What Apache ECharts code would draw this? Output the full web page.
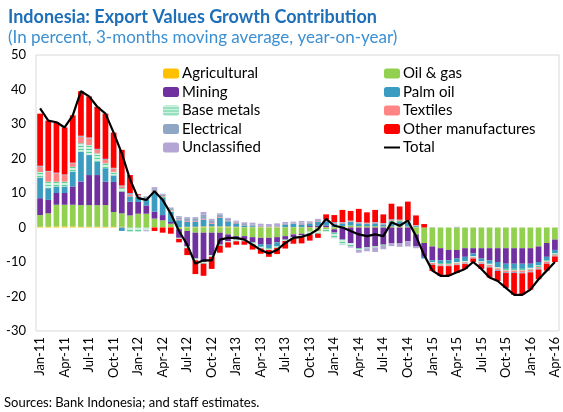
<!DOCTYPE html>
<html>
<head>
<meta charset="utf-8">
<script src="https://cdn.jsdelivr.net/npm/echarts@6/dist/echarts.min.js"></script>
<style>
  html, body { margin: 0; padding: 0; background: #fff; }
  #chart { width: 563px; height: 412px; }
</style>
</head>
<body>
<div id="chart"></div>
<script>
var months = [
    'Jan-11','Feb-11','Mar-11','Apr-11','May-11','Jun-11','Jul-11','Aug-11','Sep-11','Oct-11','Nov-11','Dec-11',
    'Jan-12','Feb-12','Mar-12','Apr-12','May-12','Jun-12','Jul-12','Aug-12','Sep-12','Oct-12','Nov-12','Dec-12',
    'Jan-13','Feb-13','Mar-13','Apr-13','May-13','Jun-13','Jul-13','Aug-13','Sep-13','Oct-13','Nov-13','Dec-13',
    'Jan-14','Feb-14','Mar-14','Apr-14','May-14','Jun-14','Jul-14','Aug-14','Sep-14','Oct-14','Nov-14','Dec-14',
    'Jan-15','Feb-15','Mar-15','Apr-15','May-15','Jun-15','Jul-15','Aug-15','Sep-15','Oct-15','Nov-15','Dec-15',
    'Jan-16','Feb-16','Mar-16','Apr-16'
];

var agricultural = [
    0.2,0.2,0.3,0.3,0.3,0.2,0.2,0.2,0.2,0.2,0.2,0.1,
    0.1,0.1,0.1,0.1,0.1,0.1,0.2,0.2,0.3,0.3,0.3,0.3,
    0.2,0.1,0.1,0.1,0.1,0.1,0.1,0.1,0.1,0.1,0.1,0.1,
    0.1,0.1,0.1,0.1,0.1,0.1,0.1,0.1,0.1,0.1,0.1,0,
    0,0,0,0,0,0,0,0,0,0,0,0,
    0,0,0,0
];
var oilGas = [
    3.4,3.9,6.3,6.3,6.3,6.3,6.3,6.3,6.3,4.3,3.9,3.4,
    3.9,3.9,2.5,2.0,1.0,-0.5,-1.0,-1.5,-1.5,-1.5,-1.5,-2.0,
    -2.5,-2.5,-2.8,-3.0,-3.0,-2.8,-2.5,-2.0,-1.8,-1.2,-1.0,-0.5,
    -0.5,0.3,0.5,0.3,0.3,0.3,0.2,0.3,0.3,0.2,-2.0,-4.5,
    -5.5,-6.0,-6.5,-6.5,-6.0,-6.0,-6.0,-6.0,-6.0,-6.0,-6.0,-6.0,
    -6.0,-5.5,-4.5,-3.5
];
var mining = [
    4.9,3.9,3.4,3.4,5.3,6.8,8.7,8.7,6.8,8.7,6.3,4.0,
    3.4,2.4,2.0,1.5,0.5,-2.5,-4.5,-7.5,-8.5,-6.5,-3.5,-2.0,
    -1.0,-1.0,-1.5,-1.8,-2.0,-1.5,-1.0,-0.8,-0.5,0.3,0.4,0.5,
    -1.0,-3.5,-4.5,-6.0,-5.8,-5.5,-5.0,-4.5,-4.5,-4.0,-3.5,-4.0,
    -4.0,-3.5,-3.0,-2.5,-2.5,-1.5,-3.0,-3.5,-4.0,-4.5,-4.5,-4.5,
    -4.5,-4.5,-4.0,-3.0
];
var palmOil = [
    6.0,3.4,1.9,1.9,4.3,8.7,5.8,3.9,3.9,1.9,-1.0,1.5,
    1.5,1.8,5.5,5.0,3.0,2.0,1.5,1.5,2.0,0.8,2.5,1.5,
    1.0,0.5,0.3,-0.8,-1.0,-1.2,0.8,1.0,0.8,0.8,1.2,1.2,
    1.0,0.8,1.0,0.8,0.6,0.8,0.6,1.2,1.2,1.0,0.3,-0.5,
    -0.5,-0.8,-0.8,-1.0,-1.2,-0.8,-0.8,-1.0,-1.5,-1.5,-1.5,-1.5,
    -1.2,-1.0,-1.0,-1.0
];
var baseMetals = [
    1.6,1.9,1.4,1.4,1.4,2.4,2.9,2.4,1.4,1.0,1.0,-1.2,
    -1.2,-0.8,0.3,0.3,0.3,-0.3,-0.5,-0.5,-0.5,-0.5,-0.3,-0.3,
    -0.5,-0.5,-0.6,-0.5,-0.5,-0.4,-0.4,-0.4,-0.3,-0.8,-0.8,-0.8,
    -1.5,-1.5,-1.0,-0.5,-0.3,-0.3,-0.3,0.3,0.3,0.3,0.1,0,
    -0.3,-0.4,-0.4,-0.4,-0.4,-0.3,-0.3,-0.4,-0.4,-0.5,-0.5,-0.5,
    -0.5,-0.5,-0.4,-0.4
];
var textiles = [
    1.5,2.9,2.4,1.9,1.0,1.9,1.9,1.0,1.0,1.0,0.5,0.5,
    0.3,0.2,0.2,0.2,0.2,0.2,0.2,0.2,0.2,0.2,0.2,0.2,
    0.2,0.1,0.1,0.1,0.1,0.1,0.1,0.1,0.2,0.2,0.2,0.2,
    0.2,0.2,0.2,0.2,0.2,0.2,0.2,0.2,0.2,0.2,0.1,0,
    -0.3,-0.3,-0.3,-0.3,-0.3,-0.2,-0.3,-0.4,-0.4,-0.4,-0.4,-0.5,
    -0.5,-0.4,-0.4,-0.3
];
var electrical = [
    0.3,0.2,0.2,0.2,0.2,0.3,0.3,0.3,0.3,0.2,0.3,0.5,
    0.3,0.6,0.5,0.5,0.5,0.6,0.8,0.8,1.2,0.8,0.8,0.5,
    0.3,0.3,0.4,0.3,0.2,0.2,0.2,0.3,0.3,0.2,0.3,0.3,
    0.3,0.2,0.2,0.2,0.2,0.2,0.2,0.3,0.2,0.2,0.1,0,
    -0.2,-0.2,-0.2,-0.2,-0.2,-0.2,-0.2,-0.3,-0.3,-0.3,-0.3,-0.3,
    -0.3,-0.3,-0.2,-0.2
];
var otherManuf = [
    15.1,14.6,14.6,13.6,13.7,12.9,11.9,12.2,13.1,10.2,10.3,5.2,
    0.2,0.0,-1.0,-1.5,-1.8,-1.0,-2.0,-4.0,-3.5,-3.5,-2.0,-1.5,
    -1.0,-1.0,-1.5,-1.5,-2.0,-1.8,-2.2,-1.5,-2.0,-1.8,-1.2,1.5,
    2.0,3.5,2.8,3.8,3.0,3.5,2.5,4.5,3.8,5.5,2.8,1.0,
    -1.8,-2.8,-2.8,-2.3,-1.4,-1.0,-1.4,-2.9,-2.9,-4.3,-6.3,-6.2,
    -5.0,-2.8,-2.0,-1.6
];
var unclassified = [
    0,0,0,0,0,0,0,0,0,0,0,0,
    0,-0.3,0.6,0.2,0.2,0.4,0.3,0.3,0.8,0.4,0.3,0.3,
    0.3,0.5,0.5,0.6,0.6,0.8,0.4,0.2,0.5,0.2,0.3,0,
    -0.1,-0.1,-0.3,-0.8,-0.8,-1.3,-1.0,-0.9,-1.1,-1.5,-0.5,0,
    0.1,0,0,0.2,0,0,0,0,0,0,0,0,
    0,0,0,0
];
var total = [
    34.5,31,30.5,29,32.5,39.5,38,35,33,27.5,21.5,14,
    8.5,8,10.5,8,4,-1,-5,-10.5,-9.5,-9.5,-3.5,-3,
    -3,-3.5,-5,-6.5,-7.5,-6.5,-4.5,-3,-2.7,-2,-0.5,2.5,
    0.5,0,-1,-2,-2.5,-2,-2.5,1.5,0.5,2,-2.5,-8,
    -12.5,-14,-14,-13,-12,-10,-12,-14.5,-15.5,-17.5,-19.5,-19.5,
    -18,-15,-12.5,-10
];

var seriesNames = ['Agricultural','Oil & gas','Mining','Palm oil','Base metals','Textiles','Electrical','Other manufactures','Unclassified'];
var seriesData = [agricultural, oilGas, mining, palmOil, baseMetals, textiles, electrical, otherManuf, unclassified];
var seriesColors = ['#ffc000','#92d050','#7030a0','#3a9cc0','#5fd09a','#ff8585','#8fa6c4','#ff0000','#b3a6d4'];

var fontFam = 'Lato, "Open Sans", sans-serif';

var chart = echarts.init(document.getElementById('chart'), null, {renderer: 'canvas'});

var series = [];
for (var i = 0; i < seriesNames.length; i++) {
    var s = {
        name: seriesNames[i],
        type: 'bar',
        stack: 'all',
        barCategoryGap: '30%',
        data: seriesData[i],
        itemStyle: {color: seriesColors[i]},
        emphasis: {disabled: true}
    };
    if (seriesNames[i] == 'Base metals') {
        // striped fill like the excel pattern
        s.itemStyle.decal = {
            symbol: 'rect',
            symbolSize: 1,
            dashArrayX: [[1, 0]],
            dashArrayY: [2, 1],
            rotation: 0,
            color: 'rgba(255,255,255,0.7)'
        };
    }
    series.push(s);
}
series.push({
    name: 'Total',
    type: 'line',
    data: total,
    symbol: 'none',
    lineStyle: {color: '#000', width: 2.2},
    itemStyle: {color: '#000'},
    z: 5
});

var legendCommon = {
    orient: 'vertical',
    top: 66,
    padding: 0,
    itemWidth: 16,
    itemHeight: 10,
    itemGap: 3.5,
    textStyle: {fontFamily: fontFam, fontSize: 15, color: '#000', padding: [0, 0, 0, -2]}
};

var option = {
    animation: false,
    title: {
        text: 'Indonesia: Export Values Growth Contribution',
        subtext: '(In percent, 3-months moving average, year-on-year)',
        left: 3,
        top: 3,
        itemGap: 3,
        textStyle: {fontFamily: fontFam, fontSize: 18, fontWeight: 'bold', color: '#1e6fb8'},
        subtextStyle: {fontFamily: fontFam, fontSize: 17, color: '#3b8fd2'}
    },
    legend: [
        Object.assign({}, legendCommon, {
            left: 163,
            data: ['Agricultural','Mining','Base metals','Electrical','Unclassified']
        }),
        Object.assign({}, legendCommon, {
            left: 383,
            data: ['Oil & gas','Palm oil','Textiles','Other manufactures',
                {name: 'Total', itemStyle: {opacity: 0}}]
        })
    ],
    grid: {
        left: 36,
        right: 4,
        top: 55,
        bottom: 81,
        show: true,
        borderColor: '#d9d9d9',
        borderWidth: 1
    },
    xAxis: {
        type: 'category',
        data: months,
        axisLine: {onZero: false, show: false},
        axisTick: {show: false},
        axisLabel: {
            interval: 2,
            rotate: 90,
            fontFamily: fontFam,
            fontSize: 13,
            color: '#000',
            margin: 6
        }
    },
    yAxis: {
        type: 'value',
        min: -30,
        max: 50,
        interval: 10,
        splitLine: {show: false},
        axisLine: {show: false},
        axisTick: {show: false},
        axisLabel: {fontFamily: fontFam, fontSize: 13, color: '#000', margin: 10}
    },
    graphic: [{
        type: 'text',
        left: 4,
        top: 396,
        style: {
            text: 'Sources: Bank Indonesia; and staff estimates.',
            fontFamily: fontFam,
            fontSize: 13,
            fill: '#000'
        }
    }],
    series: series
};

chart.setOption(option);
</script>
</body>
</html>
